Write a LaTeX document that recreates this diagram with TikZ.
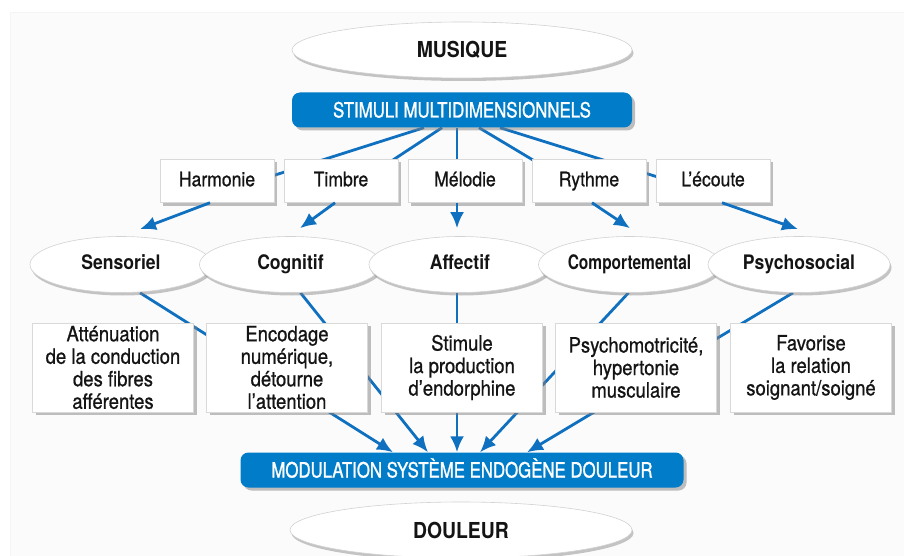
\documentclass[tikz,border=0pt]{standalone}
\usepackage{graphicx}
\usepackage{fontspec}
\setmainfont{TeX Gyre Heros}[FakeStretch=0.88]
\newfontfamily\medfont{TeX Gyre Heros}[FakeStretch=0.88, FakeBold=0.8]
\newfontfamily\bluefont{TeX Gyre Heros}[FakeStretch=0.80, FakeBold=1.2]
\usetikzlibrary{shapes.geometric,arrows.meta,shadows}
\definecolor{bluebox}{RGB}{0,124,200}
\definecolor{bluearr}{RGB}{16,112,192}
\definecolor{txt}{RGB}{20,20,20}
\pgfdeclarelayer{paper}
\pgfdeclarelayer{links}
\pgfsetlayers{paper,links,main}
\begin{document}
\begin{tikzpicture}[x=1pt,y=-1pt,
  oval/.style={ellipse, draw=gray!35, line width=0.6pt, fill=white,
    minimum width=182pt, minimum height=56pt, inner sep=0pt,
    text height=14.5pt, text depth=4pt,
    drop shadow={shadow xshift=1.5pt, shadow yshift=-3pt, opacity=0.45},
    font=\fontsize{20}{22}\selectfont\bfseries, text=txt},
  bigoval/.style={oval, minimum width=340pt, text height=16pt, text depth=0pt,
    font=\fontsize{22}{24}\selectfont\bfseries},
  topbox/.style={rectangle, draw=gray!30, line width=0.5pt, fill=white,
    minimum width=114pt, minimum height=43pt, inner sep=0pt,
    text height=14.5pt, text depth=4pt,
    drop shadow={shadow xshift=3pt, shadow yshift=-3pt, opacity=0.5},
    font=\medfont\fontsize{20}{22}\selectfont, text=txt},
  lowbox/.style={topbox, minimum width=161pt, minimum height=89pt, align=center,
    text height=, text depth=,
    font=\medfont\fontsize{21}{22.5}\selectfont},
  bluebar/.style={rectangle, rounded corners=8pt, fill=bluebox, minimum height=35pt,
    inner sep=0pt, text=white, text height=15pt, text depth=0pt,
    font=\bluefont\fontsize{21}{23}\selectfont,
    drop shadow={shadow xshift=3pt, shadow yshift=-3pt, opacity=0.5}},
  link/.style={draw=bluearr, line width=2.8pt},
  arr/.style={link, -{Latex[length=16pt,width=14pt]}},
]
\useasboundingbox (0,0) rectangle (904,556);
\begin{pgfonlayer}{paper}
  \fill[black!1.5] (10,12) rectangle (904,556);
  \draw[black!4, line width=0.6pt] (10,556) -- (10,12) -- (904,12);
\end{pgfonlayer}

% top
\node[bigoval] (mus) at (462,50) {MUSIQUE};
\node[bluebar, minimum width=340pt] (stim) at (462,110) {STIMULI MULTIDIMENSIONNELS};

% row 1
\node[topbox] (harm) at (217,181) {Harmonie};
\node[topbox] (timb) at (341,181) {Timbre};
\node[topbox] (mel) at (465,181) {Mélodie};
\node[topbox] (ryth) at (589,181) {Rythme};
\node[topbox] (ecou) at (713,181) {L’écoute};

% row 2
\node[oval] (sens) at (121,264.5) {Sensoriel};
\node[oval] (cog) at (290.5,264.5) {Cognitif};
\node[oval] (aff) at (460,264.5) {Affectif};
\node[oval] (comp) at (629.5,264.5) {\scalebox{0.88}[1]{Comportemental}};
\node[oval] (psy) at (799,264.5) {Psychosocial};

% row 3
\node[lowbox] (b1) at (113,367.5) {Atténuation\\de la conduction\\des fibres\\afférentes};
\node[lowbox] (b2) at (287,367.5) {Encodage\\numérique,\\détourne\\l’attention};
\node[lowbox] (b3) at (462,367.5) {Stimule\\la production\\d’endorphine};
\node[lowbox] (b4) at (636,367.5) {Psychomotricité,\\hypertonie\\musculaire};
\node[lowbox] (b5) at (811,367.5) {Favorise\\la relation\\soignant/soigné};

% bottom
\node[bluebar, minimum width=443pt] (mod) at (462,470) {MODULATION SYSTÈME ENDOGÈNE DOULEUR};
\node[bigoval, minimum width=342pt] (dou) at (461,530) {DOULEUR};

% links behind boxes
\begin{pgfonlayer}{links}
  \draw[link] ([xshift=-38pt]stim.south) -- ([xshift=33pt,yshift=-2pt]harm.center);
  \draw[link] ([xshift=-20pt]stim.south) -- ([xshift=20pt]timb.center);
  \draw[link] ([xshift=-5pt]stim.south) -- ([xshift=-8pt]mel.center);
  \draw[link] ([xshift=17pt]stim.south) -- ([xshift=-21pt]ryth.center);
  \draw[link] ([xshift=38pt]stim.south) -- ([xshift=-33pt,yshift=-3pt]ecou.center);

  \draw[arr] ([xshift=19pt]sens.south) -- ([xshift=-69pt]mod.north);
  \draw[arr] ([xshift=10pt]cog.south) -- ([xshift=-34pt]mod.north);
  \draw[arr] ([xshift=-3pt]aff.south) -- ([xshift=-5pt]mod.north);
  \draw[arr] ([xshift=-1pt]comp.south) -- ([xshift=18pt]mod.north);
  \draw[arr] ([xshift=-6pt]psy.south) -- ([xshift=65pt]mod.north);
\end{pgfonlayer}

% arrows row 1 -> row 2
\draw[arr] ([xshift=-7pt]harm.south) -- ([xshift=19pt,yshift=7pt]sens.north);
\draw[arr] ([xshift=-6pt]timb.south) -- ([xshift=9.5pt,yshift=8pt]cog.north);
\draw[arr] ([xshift=-8pt]mel.south) -- ([xshift=-3pt,yshift=8pt]aff.north);
\draw[arr] ([xshift=3pt]ryth.south) -- ([xshift=0.5pt,yshift=8pt]comp.north);
\draw[arr] ([xshift=9pt]ecou.south) -- ([xshift=-1pt,yshift=7pt]psy.north);
\end{tikzpicture}
\end{document}
